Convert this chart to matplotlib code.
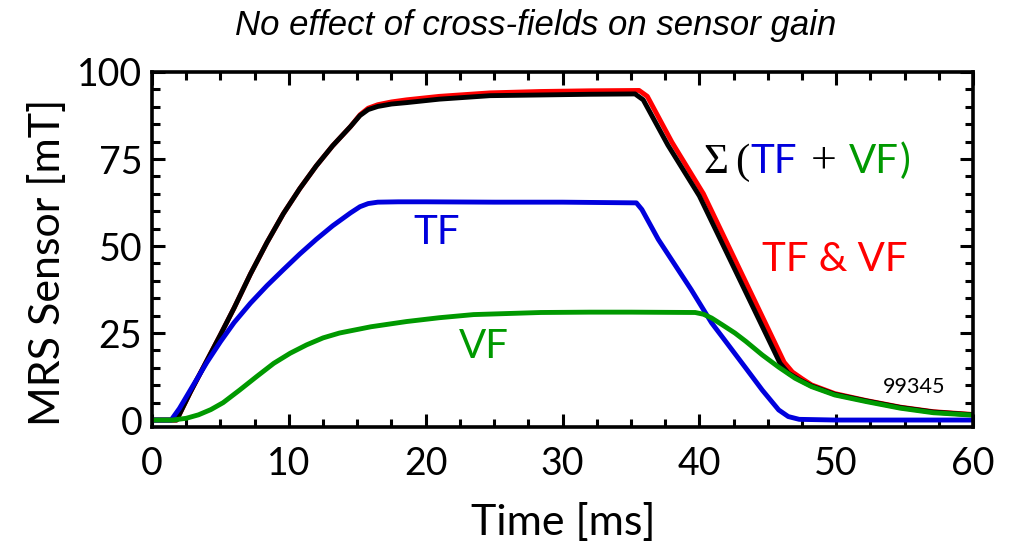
import matplotlib
matplotlib.use("Agg")
import matplotlib.pyplot as plt
from matplotlib.ticker import MultipleLocator

# ---- data ----
black_t = [0, 1.8, 2.8, 4.0, 5.0, 6.0, 7.2, 8.4, 9.6, 10.8, 12.0, 13.2, 14.5, 15.2,
           15.8, 16.5, 17.5, 18.6, 21, 24.7, 28.4, 32, 35.3, 35.9, 37.7, 40.0, 42.0, 44.0,
           45.9, 46.5, 47.3, 48.2, 49.9, 52.2, 54.7, 57.1, 60]
black_v = [0, 0, 8.0, 17.0, 24.5, 32.2, 42.0, 51.0, 59.3, 66.5, 73, 78.8, 84.3, 87.5,
           89.2, 90.1, 90.8, 91.2, 92.2, 93.2, 93.4, 93.6, 93.7, 92.0, 79.0, 64.4, 48.1, 31.8,
           16.3, 13.5, 11.6, 9.8, 7.4, 5.5, 3.6, 2.3, 1.5]

red_t = [0, 1.8, 2.8, 4.0, 5.0, 6.0, 7.2, 8.4, 9.6, 10.8, 12.0, 13.2, 14.5, 15.2,
         15.8, 16.5, 17.5, 18.6, 21, 24.7, 28.4, 32, 35.6, 36.2, 38.0, 40.3, 42.3, 44.3,
         46.2, 46.8, 47.5, 48.2, 49.9, 52.2, 54.7, 57.1, 60]
red_v = [0, 0, 8.0, 17.0, 24.5, 32.2, 42.0, 51.0, 59.3, 66.5, 73, 78.8, 84.3, 87.7,
         89.6, 90.6, 91.4, 92.0, 93.0, 94.0, 94.4, 94.6, 94.7, 93.0, 79.8, 65.0, 48.6, 32.2,
         16.6, 13.8, 11.9, 10.1, 7.6, 5.6, 3.7, 2.4, 1.6]

tf_t = [0, 1.4, 2.0, 2.8, 4.0, 5.0, 6.0, 7.2, 8.4, 9.6, 10.8, 12.0, 13.2, 14.5, 15.2, 15.8,
        16.5, 18, 20, 25, 30, 35.4, 35.8, 37.0, 39.4, 40.9, 41.75, 43.4, 44.6, 45.8, 46.5,
        47.3, 50, 55, 60]
tf_v = [0, 0, 3.3, 8.6, 16.5, 22.5, 28, 33.6, 38.6, 43.2, 47.7, 51.9, 55.8, 59.5, 61.3, 62.2,
        62.6, 62.7, 62.7, 62.6, 62.6, 62.4, 60.5, 51.9, 37.5, 27.9, 23.5, 14.9, 8.6, 2.9, 1.0,
        0.2, 0, 0, 0]

vf_t = [0, 1.5, 2.5, 3.4, 4.3, 5.2, 6.4, 7.65, 8.9, 10.1, 11.3, 12.5, 13.7, 16, 18.6, 21,
        23.5, 28.4, 32, 35, 39.7, 40.3, 40.9, 41.7, 42.6, 43.4, 44.6, 45.8, 47.0, 48.2, 49.9,
        52.2, 54.7, 57.1, 60]
vf_v = [0, 0, 0.5, 1.5, 3.0, 5.0, 8.6, 12.5, 16.3, 19.2, 21.6, 23.6, 25.0, 26.8, 28.3, 29.4,
        30.3, 30.9, 31.0, 31.0, 30.9, 30.4, 29.3, 27.3, 25.0, 22.6, 18.7, 15.2, 12.0, 9.6, 7.2,
        5.3, 3.4, 2.1, 1.4]

x_ticks = [0, 10, 20, 30, 40, 50, 60]
y_ticks = [0, 25, 50, 75, 100]

SANS = ["Lato", "DejaVu Sans"]
SERIF = ["Liberation Serif", "DejaVu Serif"]
plt.rcParams['font.family'] = SANS

W, H = 1016, 546
fig = plt.figure(figsize=(W / 100, H / 100), dpi=100)
ax = fig.add_axes([152 / W, 1 - 427 / H, (973 - 152) / W, (427 - 72) / H])

lw = 3.5
kw = dict(lw=lw, solid_capstyle="butt", solid_joinstyle="round")
ax.plot(red_t, red_v, color="#ff0000", **kw)
ax.plot(black_t, black_v, color="black", **kw)
ax.plot(tf_t, tf_v, color="#0000dd", **kw)
ax.plot(vf_t, vf_v, color="#009900", **kw)

ax.set_xlim(0, 60)
ax.set_ylim(-2, 100)
ax.set_xticks(x_ticks)
ax.set_yticks(y_ticks)
ax.xaxis.set_minor_locator(MultipleLocator(2.5))
ax.yaxis.set_minor_locator(MultipleLocator(5))
ax.tick_params(which="both", direction="in", top=True, right=True, width=2.2, color="black")
ax.tick_params(which="major", length=9.5)
ax.tick_params(which="minor", length=5.5)
ax.tick_params(axis="x", which="major", pad=14, labelsize=27)
ax.tick_params(axis="y", which="major", pad=7, labelsize=27)
for s in ax.spines.values():
    s.set_linewidth(2.6)

ax.set_xlabel("Time [ms]", fontsize=31, va="top")
ax.xaxis.set_label_coords(0.5006, -0.215)
ax.set_ylabel("MRS Sensor [mT]", fontsize=31)
ax.yaxis.set_label_coords(-0.104, 0.465)

fig.text(536 / W, 1 - 26 / H, "No effect of cross-fields on sensor gain",
         family=["Liberation Sans"], style="italic", fontsize=25, ha="center", va="center")

ax.text(20.8, 54.0, "TF", color="#0000dd", fontsize=29, ha="center", va="center")
ax.text(22.4, 21.0, "VF", color="#009900", fontsize=29, ha="left", va="center")
ax.text(44.6, 46.0, "TF & VF", color="#ff0000", fontsize=29, ha="left", va="center")
ax.text(58.0, 9.5, "99345", color="black", fontsize=15.5, ha="right", va="center")

# composite multi-coloured label
fig.canvas.draw()
renderer = fig.canvas.get_renderer()
x0, y0 = ax.transData.transform((40.3, 71.0))
pieces = [("Σ", "black", SERIF, 31, 7), ("(", "black", SERIF, 31, 1),
          ("TF", "#0000dd", SANS, 29, 13), ("+", "black", SERIF, 33, 13),
          ("VF", "#009900", SANS, 29, 1), (")", "#009900", SANS, 29, 0)]
x = x0
for s, c, fam, fs, gap in pieces:
    t = fig.text(x / W, y0 / H, s, color=c, family=fam, fontsize=fs, ha="left", va="baseline")
    bb = t.get_window_extent(renderer)
    x = bb.x1 + gap

fig.savefig("out.png", dpi=100)
